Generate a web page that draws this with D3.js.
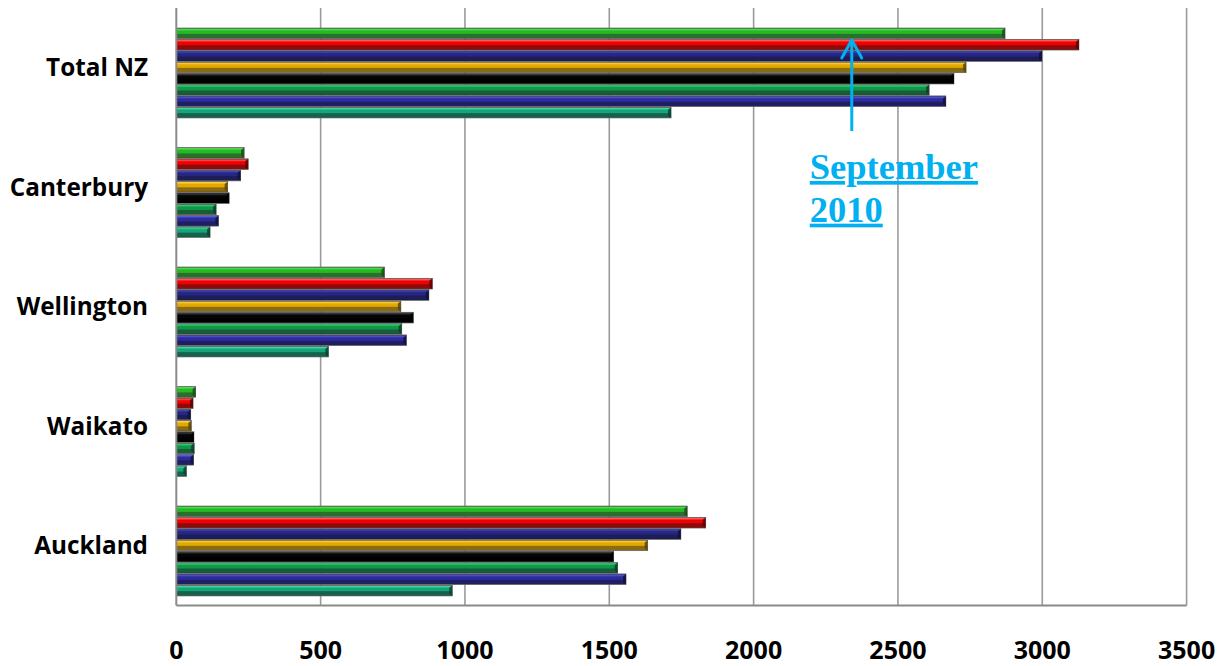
<!DOCTYPE html>
<html>
<head>
<meta charset="utf-8">
<script src="https://cdn.jsdelivr.net/npm/d3@7"></script>
<style>
  html, body { margin: 0; padding: 0; background: #fff; }
  svg { display: block; }
</style>
</head>
<body>
<svg id="chart" width="1220" height="666"></svg>
<script>
// ---- data ----
const categories = ["Total NZ", "Canterbury", "Wellington", "Waikato", "Auckland"];
const seriesNames = ["Series 1", "Series 2", "Series 3", "Series 4", "Series 5", "Series 6", "Series 7", "Series 8"];
const series1 = [2871, 235, 721, 67, 1770];
const series2 = [3127, 249, 887, 58, 1834];
const series3 = [2999, 223, 875, 50, 1748];
const series4 = [2736, 178, 778, 52, 1633];
const series5 = [2694, 183, 821, 61, 1515];
const series6 = [2608, 138, 781, 62, 1529];
const series7 = [2666, 146, 797, 60, 1558];
const series8 = [1714, 117, 527, 35, 956];
const xTicks = [0, 500, 1000, 1500, 2000, 2500, 3000, 3500];
const annotationLines = ["September", "2010"];
const annotationValue = 2340;

// ---- styles ----
const palette = [
  { hi: "#5be05b", main: "#22bb22", dark: "#2c6e2c", edge: "#1d4a1d" },
  { hi: "#ff5a5a", main: "#f00000", dark: "#8e0a0a", edge: "#5a0000" },
  { hi: "#4a4ab0", main: "#262685", dark: "#1d1d58", edge: "#111136" },
  { hi: "#ffd24a", main: "#e3a900", dark: "#8a6a12", edge: "#5a440a" },
  { hi: "#3a3a3a", main: "#050505", dark: "#000000", edge: "#000000" },
  { hi: "#3ccf7a", main: "#0c9a48", dark: "#195c38", edge: "#0f3d24" },
  { hi: "#5a5ad0", main: "#2c2ca0", dark: "#1f1f62", edge: "#121240" },
  { hi: "#4ad6a6", main: "#14a678", dark: "#16634d", edge: "#0c4031" }
];

const allSeries = [series1, series2, series3, series4, series5, series6, series7, series8];

const svg = d3.select("#chart");
const mLeft = 176.3, mRight = 1186.6, mTop = 8, mBottom = 605.5;

const x = d3.scaleLinear().domain([0, 3500]).range([mLeft, mRight]);
const y0 = d3.scaleBand().domain(categories).range([mTop, mBottom]).paddingInner(0).paddingOuter(0);
const step = y0.step();
const y1 = d3.scaleBand().domain(seriesNames).range([step * 0.1675, step * 0.925]).padding(0);

// gradients
const defs = svg.append("defs");
palette.forEach((p, i) => {
  const g = defs.append("linearGradient").attr("id", "g" + i)
    .attr("x1", 0).attr("y1", 0).attr("x2", 0).attr("y2", 1);
  [[0, p.edge], [0.1, p.hi], [0.28, p.main], [0.5, p.main], [0.6, p.dark], [0.9, p.dark], [1, p.edge]]
    .forEach(([o, c]) => g.append("stop").attr("offset", o).attr("stop-color", c));
});

// gridlines
svg.append("g").selectAll("line").data(xTicks.slice(1)).join("line")
  .attr("x1", d => x(d)).attr("x2", d => x(d))
  .attr("y1", mTop).attr("y2", mBottom)
  .attr("stroke", "#9a9a9a").attr("stroke-width", 1.6);

// bars
const bars = [];
categories.forEach((c, ci) => {
  seriesNames.forEach((s, si) => {
    bars.push({ cat: c, ser: s, si, value: allSeries[si][ci] });
  });
});

const bg = svg.append("g");
const bar = bg.selectAll("g.bar").data(bars).join("g").attr("class", "bar");
bar.append("rect")
  .attr("x", x(0))
  .attr("y", d => y0(d.cat) + y1(d.ser))
  .attr("width", d => x(d.value) - x(0))
  .attr("height", y1.bandwidth() - 0.6)
  .attr("fill", d => `url(#g${d.si})`)
  .attr("stroke", "#6a6a6a").attr("stroke-width", 0.7);
// bevel at right end
bar.append("path")
  .attr("d", d => {
    const x1 = x(d.value), yt = y0(d.cat) + y1(d.ser), h = y1.bandwidth() - 0.6;
    const b = Math.min(3, (x1 - x(0)) / 3);
    return `M${x1 - b},${yt + 2.5}L${x1},${yt}L${x1},${yt + h}L${x1 - b},${yt + h - 2.5}Z`;
  })
  .attr("fill", d => palette[d.si].edge).attr("opacity", 0.85);

// axis lines
svg.append("line").attr("x1", mLeft).attr("x2", mLeft).attr("y1", mTop).attr("y2", mBottom)
  .attr("stroke", "#8a8a8a").attr("stroke-width", 2);
svg.append("line").attr("x1", mLeft).attr("x2", mRight).attr("y1", mBottom).attr("y2", mBottom)
  .attr("stroke", "#8a8a8a").attr("stroke-width", 2);

// x tick labels
svg.append("g").selectAll("text").data(xTicks).join("text")
  .attr("x", d => x(d)).attr("y", 659)
  .attr("text-anchor", "middle")
  .attr("font-family", "'Open Sans', 'Liberation Sans', sans-serif")
  .attr("font-weight", "bold").attr("font-size", 25)
  .attr("fill", "#000")
  .text(d => d);

// category labels
svg.append("g").selectAll("text").data(categories).join("text")
  .attr("x", 148).attr("y", d => y0(d) + step / 2)
  .attr("dy", "0.35em")
  .attr("text-anchor", "end")
  .attr("font-family", "'Open Sans', 'Liberation Sans', sans-serif")
  .attr("font-weight", "bold").attr("font-size", 24.3)
  .attr("fill", "#000")
  .text(d => d);

// annotation arrow
const ax = x(annotationValue);
const ann = svg.append("g").attr("stroke", "#00b0f0").attr("stroke-width", 3).attr("fill", "none");
ann.append("line").attr("x1", ax).attr("x2", ax).attr("y1", 131).attr("y2", 40);
ann.append("path").attr("d", `M${ax - 10},${58}L${ax},${40}L${ax + 10},${58}`)
  .attr("stroke-linecap", "round").attr("stroke-linejoin", "round");

const tx = ax - 42;
svg.append("g").selectAll("text").data(annotationLines).join("text")
  .attr("x", tx).attr("y", (d, i) => 179 + i * 42.7)
  .attr("font-family", "'Liberation Serif', 'Times New Roman', serif")
  .attr("font-weight", "bold").attr("font-size", 36.5)
  .attr("fill", "#00b0f0")
  .attr("text-decoration", "underline")
  .text(d => d);
</script>
</body>
</html>
